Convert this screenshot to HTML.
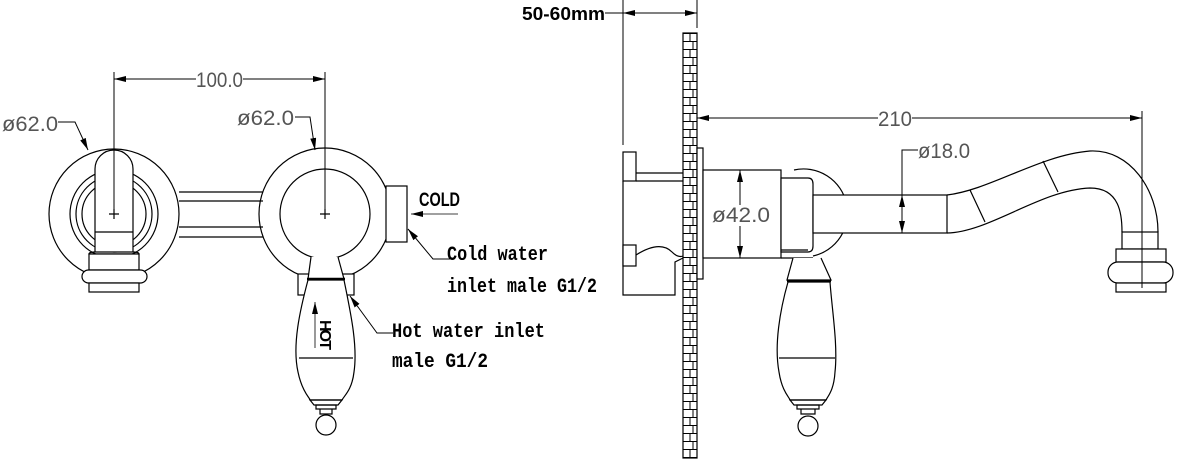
<!DOCTYPE html>
<html><head><meta charset="utf-8"><style>
html,body{margin:0;padding:0;background:#fff;}
svg{display:block}
.l{fill:none;stroke:#000;stroke-width:1.2}
.t{font-family:"Liberation Mono",monospace;font-size:20px;font-weight:bold;fill:#000}
.d{font-family:"Liberation Sans",sans-serif;font-size:21px;fill:#555}
</style></head><body>
<svg width="1192" height="461" viewBox="0 0 1192 461">
<defs>
<marker id="a" viewBox="0 0 12 6" refX="12" refY="3" markerWidth="12" markerHeight="6" orient="auto-start-reverse" markerUnits="userSpaceOnUse"><path d="M0,0L12,3L0,6z" fill="#000"/></marker>
<pattern id="br" x="683" y="33" width="14" height="16" patternUnits="userSpaceOnUse">
<rect width="14" height="16" fill="#fff"/>
<path d="M0,0.5H14M0,8.5H14M7,0V8M10,8V16" stroke="#000" stroke-width="1"/>
</pattern>
</defs>

<!-- LEFT VIEW -->
<g class="l">
<circle cx="114" cy="214" r="65"/>
<circle cx="114" cy="214" r="44"/>
<circle cx="114" cy="214" r="38"/>
<circle cx="114" cy="214" r="32"/>
<path d="M179,192H263M179,201H263M179,227H263M179,237H263"/>
<path d="M95,252V169A19,19 0 0 1 133,169V252Z" fill="#fff"/>
<path d="M95,232H133"/>
<path d="M95,252Q89,252 89,254H139Q139,252 133,252"/>
<rect x="89" y="254" width="50" height="16" fill="#fff"/>
<rect x="82" y="270" width="65" height="13" rx="6.5" fill="#fff"/>
<rect x="89" y="283" width="50" height="9" fill="#fff"/>
<path d="M109,214h10M114,209v10"/>

<circle cx="325" cy="214" r="66"/>
<circle cx="325" cy="214" r="45"/>
<path d="M320,214h10M325,209v10"/>
<rect x="386" y="186" width="21" height="56" fill="#fff"/>
<rect x="298" y="274" width="56" height="21" fill="#fff"/>
<path d="M311,257L308,279H344L338,257" fill="#fff"/>
<path d="M307,279H345" stroke-width="2.5"/>
<path d="M308,280C300,310 292,345 298,372C302,392 310,398 310,400H342C344,396 352,390 354,372C358,345 350,310 344,280Z" fill="#fff"/>
<path d="M299,358H353"/>
<path d="M310,400H342L338,405H314Z"/>
<path d="M316,405H336V409H316Z"/>
<path d="M320,409V414H332V409"/>
<circle cx="326" cy="425" r="10" fill="#fff"/>
</g>
<text transform="translate(320,320) rotate(90)" font-family="Liberation Sans" font-weight="bold" font-size="16" fill="#000" textLength="30">HOT</text>
<line x1="315" y1="348" x2="315" y2="302" stroke="#000" stroke-width="0.8" marker-end="url(#a)"/>

<g stroke="#000" stroke-width="1" fill="none">
<path d="M114,72V214M325,72V214"/>
<line x1="114" y1="79" x2="196" y2="79" marker-start="url(#a)"/>
<line x1="243" y1="79" x2="325" y2="79" marker-end="url(#a)"/>
<path d="M58,122H75L88,150" marker-end="url(#a)"/>
<path d="M295,117H310L315,150" marker-end="url(#a)"/>
<line x1="458" y1="214" x2="411" y2="214" stroke-width="0.8" marker-end="url(#a)"/>
<path d="M450,259H433L408,229" marker-end="url(#a)"/>
<path d="M393,333H377L350,296" marker-end="url(#a)"/>
</g>
<text class="d" x="196" y="87" textLength="47" lengthAdjust="spacingAndGlyphs">100.0</text>
<text class="d" x="2" y="131" textLength="56" lengthAdjust="spacingAndGlyphs">ø62.0</text>
<text class="d" x="237" y="125" textLength="57" lengthAdjust="spacingAndGlyphs">ø62.0</text>
<text x="419" y="206" font-family="Liberation Sans" font-weight="bold" font-size="19" textLength="41" lengthAdjust="spacingAndGlyphs">COLD</text>
<text class="t" x="447" y="260" textLength="101" lengthAdjust="spacingAndGlyphs">Cold water</text>
<text class="t" x="447" y="292" textLength="150" lengthAdjust="spacingAndGlyphs">inlet male G1/2</text>
<text class="t" x="392" y="337" textLength="153" lengthAdjust="spacingAndGlyphs">Hot water inlet</text>
<text class="t" x="392" y="367" textLength="96" lengthAdjust="spacingAndGlyphs">male G1/2</text>

<!-- RIGHT VIEW -->
<rect x="683" y="33" width="14" height="425" fill="url(#br)" stroke="#000" stroke-width="1.2"/>
<g class="l">
<rect x="623" y="152" width="13" height="29" fill="#fff"/>
<path d="M636,173H683M636,181H683"/>
<path d="M623,181V295H675V262L683,258"/>
<rect x="623" y="245" width="13" height="21" fill="#fff"/>
<path d="M636,255Q660,240 672,252Q678,258 683,256"/>
<rect x="697" y="148" width="6" height="131" fill="#fff"/>
<path d="M794,170A44,44 0 0 1 813,256" />
<rect x="703" y="170" width="78" height="88" fill="#fff"/>
<path d="M781,178H808Q813,178 813,184V246Q813,252 808,252H781Z" fill="#fff"/>
<path d="M781,250H808M781,258H813"/>
<rect x="813" y="195" width="134" height="38" fill="#fff"/>
<path d="M947,195C990,190 1040,155 1090,151C1130,149 1158,190 1158,232M947,233C990,232 1040,190 1090,188C1120,188 1122,215 1122,232"/>
<path d="M970,190L985,222M1043,161L1058,192"/>
<rect x="1122" y="232" width="36" height="17" fill="#fff"/>
<rect x="1116" y="249" width="50" height="13" fill="#fff"/>
<rect x="1108" y="262" width="65" height="21" rx="10" fill="#fff"/>
<rect x="1116" y="283" width="50" height="9" fill="#fff"/>
<path d="M793,258L787,280H831L821,258" fill="#fff"/>
<path d="M787,281H831" stroke-width="2.5"/>
<path d="M788,282C780,310 774,345 779,372C782,392 790,398 790,400H826C828,396 834,390 835,372C838,345 832,310 830,282Z" fill="#fff"/>
<path d="M779,358H835"/>
<path d="M790,400H826L822,405H794Z"/>
<path d="M797,405H819V409H797Z"/>
<path d="M801,409V414H815V409"/>
<circle cx="808" cy="426" r="10" fill="#fff"/>
</g>
<g stroke="#000" stroke-width="1" fill="none">
<path d="M623,0V145M697,0V28M1142,111V288"/>
<line x1="605" y1="13" x2="623" y2="13"/>
<line x1="623" y1="13" x2="697" y2="13" marker-start="url(#a)" marker-end="url(#a)"/>
<line x1="697" y1="118" x2="878" y2="118" marker-start="url(#a)"/>
<line x1="912" y1="118" x2="1142" y2="118" marker-end="url(#a)"/>
<line x1="740" y1="205" x2="740" y2="170" marker-end="url(#a)"/>
<line x1="740" y1="226" x2="740" y2="258" marker-end="url(#a)"/>
<line x1="902" y1="214" x2="902" y2="195" marker-end="url(#a)"/>
<line x1="902" y1="214" x2="902" y2="233" marker-end="url(#a)"/>
<path d="M902,195V150H918"/>
</g>
<text class="d" x="878" y="126" textLength="34" lengthAdjust="spacingAndGlyphs">210</text>
<text class="d" x="712" y="222" textLength="58" lengthAdjust="spacingAndGlyphs">ø42.0</text>
<text class="d" x="918" y="158" textLength="52" lengthAdjust="spacingAndGlyphs">ø18.0</text>
<text x="522" y="20" font-family="Liberation Sans" font-weight="bold" font-size="18" textLength="83" lengthAdjust="spacingAndGlyphs">50-60mm</text>
</svg>
</body></html>
